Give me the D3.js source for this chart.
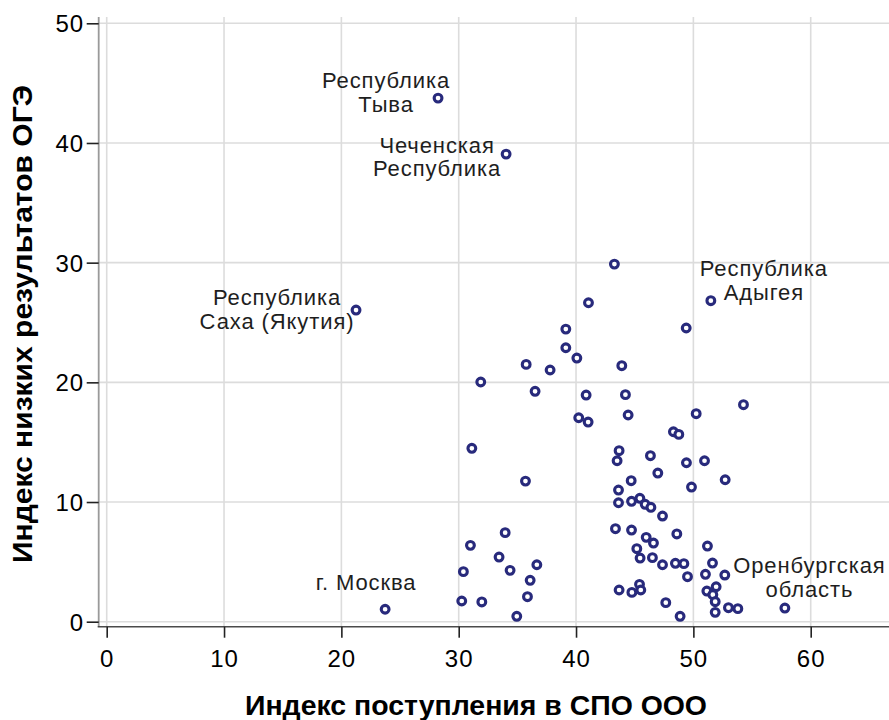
<!DOCTYPE html>
<html>
<head>
<meta charset="utf-8">
<script src="https://cdn.jsdelivr.net/npm/d3@7"></script>
<style>
  html, body { margin: 0; padding: 0; background: #fff; }
  svg { display: block; }
  text { font-family: "Liberation Sans", Arial, sans-serif; }
</style>
</head>
<body>
<svg id="chart" width="889" height="720"></svg>
<script>
// ---------- DATA ----------
// Индекс поступления в СПО ООО (x)
const entryIndex = [
  28.24, 34.04, 21.25, 51.49, 23.73, 57.80,
  43.27, 41.06, 39.13, 49.39, 39.13, 40.07, 35.75, 37.79, 43.90, 31.88,
  36.51, 40.86, 44.21, 54.27, 40.23, 41.03, 44.44, 50.24, 48.30, 48.76,
  31.12, 43.67, 43.50, 46.34, 49.41, 50.95, 46.97, 35.69, 44.70, 52.71,
  49.84, 43.62, 43.62, 44.73, 45.44, 45.89, 46.38, 47.37, 43.36, 44.73,
  48.59, 33.96, 45.98, 46.60, 31.00, 51.20, 45.18, 45.46, 46.51, 47.37,
  48.47, 49.19, 51.63, 33.44, 34.38, 36.66, 30.40, 49.50, 51.03, 52.68,
  36.09, 45.41, 43.67, 44.76, 45.52, 51.94, 51.15, 51.66, 51.86, 51.86,
  52.99, 53.79, 47.65, 48.87, 30.26, 31.97, 35.86, 34.95
];
// Индекс низких результатов ОГЭ (y)
const lowOgeIndex = [
  43.75, 39.07, 26.04, 26.82, 1.04, 1.14,
  29.88, 26.65, 24.45, 24.54, 22.89, 22.03, 21.50, 21.03, 21.39, 20.03,
  19.25, 18.94, 18.97, 18.13, 17.04, 16.68, 17.27, 17.38, 15.87, 15.65,
  14.49, 14.29, 13.45, 13.87, 13.28, 13.45, 12.42, 11.75, 11.78, 11.86,
  11.25, 11.00, 9.94, 10.06, 10.31, 9.81, 9.56, 8.83, 7.77, 7.66,
  7.33, 7.44, 7.05, 6.57, 6.38, 6.32, 6.10, 5.32, 5.35, 4.76,
  4.88, 4.85, 4.90, 5.40, 4.29, 4.76, 4.18, 3.76, 3.96, 3.90,
  3.46, 3.12, 2.65, 2.45, 2.65, 2.92, 2.56, 2.26, 1.67, 0.78,
  1.17, 1.09, 1.59, 0.45, 1.73, 1.65, 2.09, 0.45
];
// labelled regions: index into arrays above, text lines
const labelPoint = [0, 1, 2, 3, 4, 5];
const labelLines = [
  ["Республика", "Тыва"],
  ["Чеченская", "Республика"],
  ["Республика", "Саха (Якутия)"],
  ["Республика", "Адыгея"],
  ["г. Москва"],
  ["Оренбургская", "область"]
];
const xTicks = [0, 10, 20, 30, 40, 50, 60];
const yTicks = [0, 10, 20, 30, 40, 50];
const xTitle = "Индекс поступления в СПО ООО";
const yTitle = "Индекс низких результатов ОГЭ";

// ---------- LAYOUT ----------
const plot = { left: 98.7, top: 17, right: 889, bottom: 626.7 };
// label offsets (pixels, relative to point): center x, first baseline
const labelOffsets = [
  { dx: -52, dy: -10 },
  { dx: -69, dy: -1.3 },
  { dx: -79, dy: -5 },
  { dx: 53, dy: -24.7 },
  { dx: -19, dy: -19 },
  { dx: 24.5, dy: -34.7 }
];
const lineGap = 23.5;
const markColor = "#282a7c";

const svg = d3.select("#chart");
const x = d3.scaleLinear().domain([0, 60]).range([106.7, 810.7]);
const y = d3.scaleLinear().domain([0, 50]).range([621.7, 23.3]);

// grid
const grid = svg.append("g");
grid.selectAll("line.h").data(yTicks).enter().append("line")
  .attr("x1", plot.left).attr("x2", plot.right)
  .attr("y1", d => y(d)).attr("y2", d => y(d))
  .attr("stroke", "#dcdcdc").attr("stroke-width", 1.6);
grid.selectAll("line.v").data(xTicks).enter().append("line")
  .attr("y1", plot.top).attr("y2", plot.bottom)
  .attr("x1", d => x(d)).attr("x2", d => x(d))
  .attr("stroke", "#dcdcdc").attr("stroke-width", 1.6);

// axes lines
svg.append("line").attr("x1", plot.left).attr("x2", plot.left)
  .attr("y1", plot.top).attr("y2", plot.bottom)
  .attr("stroke", "#9a9a9a").attr("stroke-width", 1.8);
svg.append("line").attr("x1", plot.left - 1).attr("x2", plot.right)
  .attr("y1", plot.bottom).attr("y2", plot.bottom)
  .attr("stroke", "#4a4a4a").attr("stroke-width", 1.6);

// y axis
const yAxis = svg.append("g").attr("transform", `translate(${plot.left},0)`)
  .call(d3.axisLeft(y).tickValues(yTicks).tickSize(12).tickPadding(2.5).tickFormat(d3.format("d")));
yAxis.select(".domain").remove();
yAxis.selectAll(".tick line").attr("stroke", "#222").attr("stroke-width", 1.6);
yAxis.selectAll(".tick text").attr("font-size", 24).attr("fill", "#000")
  .attr("font-family", "'Liberation Sans', Arial, sans-serif").attr("dy", "0.36em")
  .attr("letter-spacing", 1);

// x axis
const xAxis = svg.append("g").attr("transform", `translate(0,${plot.bottom})`)
  .call(d3.axisBottom(x).tickValues(xTicks).tickSize(11).tickPadding(12).tickFormat(d3.format("d")));
xAxis.select(".domain").remove();
xAxis.selectAll(".tick line").attr("stroke", "#222").attr("stroke-width", 1.6);
xAxis.selectAll(".tick text").attr("font-size", 24).attr("fill", "#000")
  .attr("font-family", "'Liberation Sans', Arial, sans-serif").attr("letter-spacing", 1);

// titles
svg.append("text").attr("x", 476).attr("y", 715).attr("text-anchor", "middle")
  .attr("font-size", 28).attr("font-weight", "bold").attr("fill", "#000")
  .attr("textLength", 462).attr("lengthAdjust", "spacingAndGlyphs").text(xTitle);
svg.append("text").attr("transform", "translate(32,324) rotate(-90)").attr("text-anchor", "middle")
  .attr("font-size", 28).attr("font-weight", "bold").attr("fill", "#000")
  .attr("textLength", 478).attr("lengthAdjust", "spacingAndGlyphs").text(yTitle);

// points
svg.append("g").selectAll("circle").data(entryIndex.map((v, i) => [v, lowOgeIndex[i]]))
  .enter().append("circle")
  .attr("cx", d => x(d[0])).attr("cy", d => y(d[1]))
  .attr("r", 3.9).attr("fill", "#fff")
  .attr("stroke", markColor).attr("stroke-width", 3.1);

// labels
const lab = svg.append("g");
labelPoint.forEach((pi, k) => {
  const px = x(entryIndex[pi]), py = y(lowOgeIndex[pi]);
  const t = lab.append("text").attr("text-anchor", "middle")
    .attr("font-size", 22).attr("fill", "#1e1e1e").attr("letter-spacing", 0.9);
  labelLines[k].forEach((line, j) => {
    t.append("tspan").attr("x", px + labelOffsets[k].dx)
      .attr("y", py + labelOffsets[k].dy + j * lineGap).text(line);
  });
});
</script>
</body>
</html>
